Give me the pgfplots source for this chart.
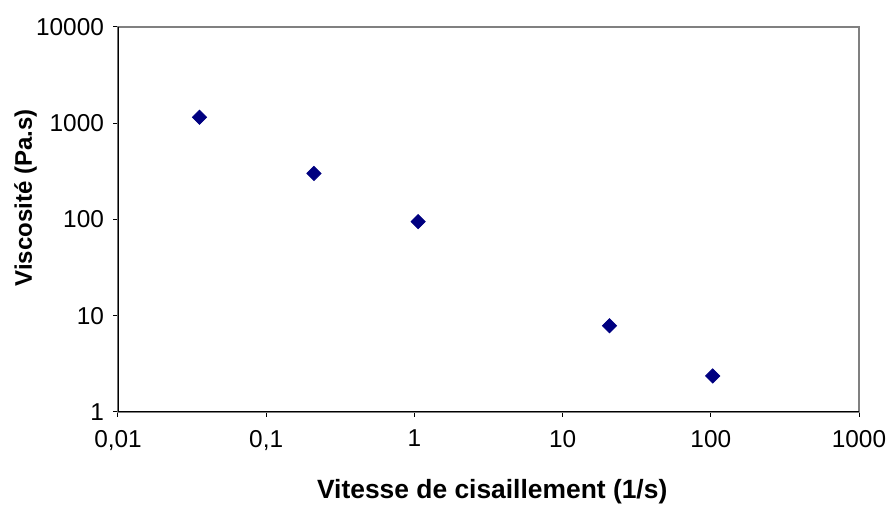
\documentclass[border=0pt]{standalone}
\usepackage{fontspec}
\setmainfont{Liberation Sans}
\usepackage{pgfplots}
\pgfplotsset{compat=1.18}
\definecolor{ptblue}{HTML}{000080}
\definecolor{framegray}{HTML}{808080}

\begin{document}
\begin{tikzpicture}
\begin{axis}[
  name=ax,
  scale only axis,
  width=370.5pt, height=192.5pt,
  xmode=log, ymode=log,
  xmin=0.01, xmax=1000,
  ymin=1, ymax=10000,
  log ticks with fixed point,
  /pgf/number format/assume math mode=true,
  /pgf/number format/use comma,
  /pgf/number format/1000 sep={},
  xtick={0.01,0.1,1,10,100,1000},
  ytick={1,10,100,1000,10000},
  xminorticks=false, yminorticks=false,
  tick align=outside,
  tick pos=left,
  major tick length=2.5pt,
  tick style={black, line width=0.5pt},
  axis line style={framegray, line width=0.8pt},
  ticklabel style={font=\fontsize{12.2pt}{14pt}\selectfont},
  xticklabel style={yshift=-3pt},
  yticklabel style={xshift=-1pt},
  xlabel={Vitesse de cisaillement (1/s)},
  ylabel={Viscosité (Pa.s)},
  xlabel style={font=\fontsize{13.2pt}{15pt}\selectfont\bfseries,
    at={(axis description cs:0.505,-0.2078)}, anchor=center},
  ylabel style={font=\fontsize{12pt}{14pt}\selectfont\bfseries,
    at={(axis description cs:-0.1248,0.556)}, anchor=center},
]
\addplot[only marks, mark=square*, mark size=2.5pt,
  mark options={rotate=45, fill=ptblue, draw=ptblue}]
  coordinates {
    (0.0355,1155)
    (0.21,301)
    (1.06,95)
    (20.7,7.87)
    (103,2.37)
  };
\draw[black, line width=0.6pt] (rel axis cs:0,1) -- (rel axis cs:0,0) -- (rel axis cs:1,0);
\end{axis}
\pgfresetboundingbox
\path[use as bounding box] ([xshift=-59pt,yshift=-48.5pt]ax.south west) rectangle ([xshift=17pt,yshift=13.5pt]ax.north east);
\end{tikzpicture}
\end{document}
